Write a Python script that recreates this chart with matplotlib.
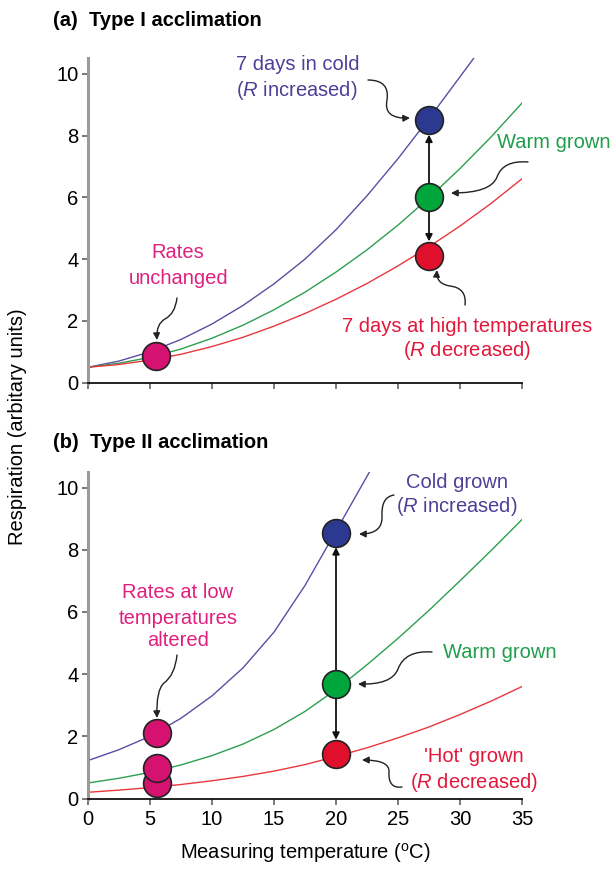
import matplotlib
matplotlib.use("Agg")
import matplotlib.pyplot as plt
from matplotlib.path import Path
from matplotlib.patches import FancyArrowPatch

plt.rcParams["font.family"] = ["Liberation Sans", "DejaVu Sans"]
plt.rcParams["mathtext.fontset"] = "custom"
plt.rcParams["mathtext.rm"] = "Liberation Sans"
plt.rcParams["mathtext.it"] = "Liberation Sans:italic"

W, H = 613, 869
FS = 14.5

temp = [0, 2.5, 5, 7.5, 10, 12.5, 15, 17.5, 20, 22.5, 25, 27.5, 30, 32.5, 35]

# (a) Type I
a_cold_temp = [0, 2.5, 5, 7.5, 10, 12.5, 15, 17.5, 20, 22.5, 25, 27.5, 30, 31.2]
a_cold = [0.5, 0.7, 1.0, 1.4, 1.9, 2.5, 3.2, 4.0, 4.95, 6.05, 7.25, 8.55, 9.9, 10.55]
a_warm = [0.5, 0.63, 0.82, 1.09, 1.44, 1.86, 2.36, 2.93, 3.58, 4.3, 5.1, 5.98, 6.93, 7.95, 9.05]
a_hot = [0.5, 0.59, 0.73, 0.92, 1.17, 1.47, 1.83, 2.24, 2.7, 3.21, 3.78, 4.4, 5.07, 5.8, 6.6]
a_pt_temp = 27.5
a_pts = [8.5, 6.0, 4.1]          # cold, warm, hot
a_low_temp = 5.5
a_low = [0.88]

# (b) Type II
b_cold_temp = [0, 2.5, 5, 7.5, 10, 12.5, 15, 17.5, 20, 22.7]
b_cold = [1.22, 1.57, 2.0, 2.58, 3.3, 4.2, 5.35, 6.85, 8.6, 10.5]
b_warm = [0.5, 0.65, 0.84, 1.08, 1.38, 1.75, 2.22, 2.8, 3.5, 4.3, 5.15, 6.05, 7.0, 7.97, 8.97]
b_hot = [0.2, 0.27, 0.35, 0.45, 0.57, 0.71, 0.88, 1.09, 1.35, 1.63, 1.95, 2.3, 2.7, 3.13, 3.6]
b_pt_temp = 20
b_pts = [8.55, 3.68, 1.42]
b_low_temp = 5.6
b_low = [0.5, 0.98, 2.1]

xticks = [0, 5, 10, 15, 20, 25, 30, 35]
yticks = [0, 2, 4, 6, 8, 10]

LINE = {"cold": "#5a4ea3", "warm": "#2e9e50", "hot": "#e8383d"}
DOT = {"cold": "#2b3990", "warm": "#00a63c", "hot": "#e0102c", "low": "#d5126f"}
TXT = {"cold": "#4e3f98", "warm": "#1f9e4c", "hot": "#e2173c", "low": "#e0207f"}


def px(x, y):
    return x / W, 1 - y / H


def ftext(fig, x, y, s, color="k", **kw):
    fig.text(*px(x, y), s, color=color, fontsize=FS, ha=kw.pop("ha", "center"),
             va="center", **kw)


def squiggle(fig, pts):
    verts = [px(*p) for p in pts]
    codes = [Path.MOVETO] + [Path.CURVE3] * (len(verts) - 1)
    arr = FancyArrowPatch(path=Path(verts, codes), arrowstyle="-|>",
                          mutation_scale=10, lw=1.0, color="#222222",
                          transform=fig.transFigure)
    fig.add_artist(arr)


def style(ax, labels):
    ax.set_xlim(0, 35)
    ax.set_ylim(0, 10.5)
    for s in ("top", "right"):
        ax.spines[s].set_visible(False)
    ax.spines["left"].set_color("#9a9a9a")
    ax.spines["left"].set_linewidth(2.2)
    ax.spines["bottom"].set_color("#111111")
    ax.spines["bottom"].set_linewidth(1.3)
    ax.set_xticks(xticks)
    ax.set_yticks(yticks)
    ax.tick_params(direction="out", length=4, width=1.1, color="#555555",
                   labelsize=FS, pad=3)
    ax.tick_params(axis="x", labelbottom=labels, pad=4)


def panel(ax, cold_t, cold, warm, hot, pt_t, pts, low_t, low):
    ax.plot(cold_t, cold, color=LINE["cold"], lw=1.0)
    ax.plot(temp, warm, color=LINE["warm"], lw=1.0)
    ax.plot(temp, hot, color=LINE["hot"], lw=1.0)
    ak = dict(arrowstyle="-|>", color="#111111", lw=1.3, mutation_scale=10,
              shrinkA=10.5, shrinkB=10.5)
    ax.annotate("", xy=(pt_t, pts[0]), xytext=(pt_t, pts[1]), arrowprops=ak)
    ax.annotate("", xy=(pt_t, pts[2]), xytext=(pt_t, pts[1]), arrowprops=ak)
    for v, k in zip(pts, ("cold", "warm", "hot")):
        ax.plot(pt_t, v, "o", ms=20, mfc=DOT[k], mec="#222222", mew=1.2,
                zorder=5, clip_on=False)
    for v in low:
        ax.plot(low_t, v, "o", ms=20, mfc=DOT["low"], mec="#222222", mew=1.2,
                zorder=5, clip_on=False)


fig = plt.figure(figsize=(W / 100, H / 100), dpi=100)
axa = fig.add_axes([88 / W, 1 - 382.7 / H, 434 / W, 10.5 * 30.9 / H])
axb = fig.add_axes([88 / W, 1 - 798.5 / H, 434 / W, 10.5 * 31.1 / H])

panel(axa, a_cold_temp, a_cold, a_warm, a_hot, a_pt_temp, a_pts, a_low_temp, a_low)
panel(axb, b_cold_temp, b_cold, b_warm, b_hot, b_pt_temp, b_pts, b_low_temp, b_low)
style(axa, False)
style(axb, True)

# titles and axis labels
ftext(fig, 53, 20, "(a)  Type I acclimation", ha="left", fontweight="bold")
ftext(fig, 53, 442, "(b)  Type II acclimation", ha="left", fontweight="bold")
ftext(fig, 18, 427, "Respiration (arbitary units)", rotation=90)
ftext(fig, 305, 853, r"Measuring temperature ($^{\mathrm{o}}$C)")

# panel (a) notes
ftext(fig, 298, 65, "7 days in cold", TXT["cold"])
ftext(fig, 297, 90, r"($\mathit{R}$ increased)", TXT["cold"])
ftext(fig, 497, 143, "Warm grown", TXT["warm"], ha="left")
ftext(fig, 467, 327, "7 days at high temperatures", TXT["hot"])
ftext(fig, 467, 351, r"($\mathit{R}$ decreased)", TXT["hot"])
ftext(fig, 178, 252, "Rates", TXT["low"])
ftext(fig, 179, 278, "unchanged", TXT["low"])
squiggle(fig, [(368, 80), (390, 80), (387, 100), (383, 119), (410, 118)])
squiggle(fig, [(528, 162), (503, 160), (497, 177), (491, 193), (451, 193)])
squiggle(fig, [(465, 305), (467, 288), (450, 286), (436, 284), (437, 270)])
squiggle(fig, [(177, 298), (175, 314), (165, 319), (156, 324), (157, 340)])

# panel (b) notes
ftext(fig, 178, 593, "Rates at low", TXT["low"])
ftext(fig, 178, 618, "temperatures", TXT["low"])
ftext(fig, 178, 641, "altered", TXT["low"])
ftext(fig, 457, 483, "Cold grown", TXT["cold"])
ftext(fig, 457, 506, r"($\mathit{R}$ increased)", TXT["cold"])
ftext(fig, 500, 653, "Warm grown", TXT["warm"])
ftext(fig, 474, 757, "'Hot' grown", TXT["hot"])
ftext(fig, 474, 782, r"($\mathit{R}$ decreased)", TXT["hot"])
squiggle(fig, [(177, 655), (175, 675), (164, 683), (156, 690), (157, 718)])
squiggle(fig, [(394, 495), (381, 497), (382, 516), (383, 534), (359, 534)])
squiggle(fig, [(432, 652), (405, 650), (398, 669), (392, 685), (358, 684)])
squiggle(fig, [(402, 787), (388, 789), (389, 772), (390, 760), (362, 760)])

fig.savefig("out.png", dpi=100)
